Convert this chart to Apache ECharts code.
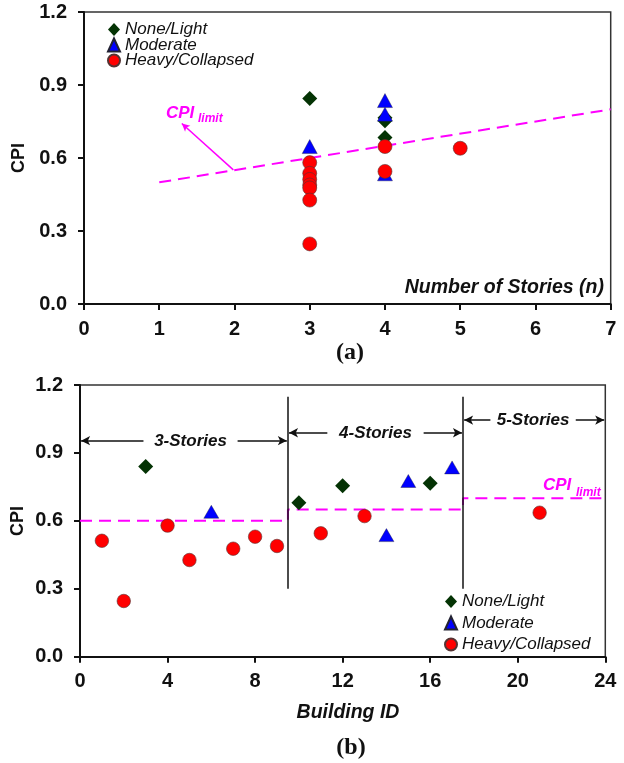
<!DOCTYPE html>
<html>
<head>
<meta charset="utf-8">
<script src="https://cdn.jsdelivr.net/npm/echarts@6/dist/echarts.min.js"></script>
<style>
  html, body { margin: 0; padding: 0; background: #fff; }
  #chart { width: 624px; height: 763px; }
</style>
</head>
<body>
<div id="chart"></div>
<script>
// ---- Panel (a): CPI versus number of stories ----
const storiesNone = [3, 4, 4, 4];
const cpiNoneA = [0.845, 0.765, 0.753, 0.684];
const storiesModerate = [3, 4, 4, 4];
const cpiModerateA = [0.647, 0.836, 0.780, 0.535];
const storiesHeavy = [3, 3, 3, 3, 3, 3, 3, 4, 4, 5];
const cpiHeavyA = [0.581, 0.537, 0.512, 0.489, 0.477, 0.427, 0.247, 0.647, 0.545, 0.640];
// CPI limit line: end points (stories, CPI)
const limitStoriesA = [1, 7];
const limitCpiA = [0.5, 0.8];

// ---- Panel (b): CPI per building ----
const idNone = [3, 10, 12, 16];
const cpiNoneB = [0.840, 0.680, 0.755, 0.766];
const idModerate = [6, 14, 15, 17];
const cpiModerateB = [0.640, 0.537, 0.776, 0.836];
const idHeavy = [1, 2, 4, 5, 7, 8, 9, 11, 13, 21];
const cpiHeavyB = [0.512, 0.246, 0.579, 0.427, 0.477, 0.530, 0.489, 0.545, 0.621, 0.636];
// Story groups: boundaries on the building axis and CPI limit of each group
const groupNames = ['3-Stories', '4-Stories', '5-Stories'];
const groupStart = [0, 9.5, 17.5];
const groupEnd = [9.5, 17.5, 24];
const groupLimit = [0.60, 0.65, 0.70];

const yTicks = [0, 0.3, 0.6, 0.9, 1.2];

const zip = (xs, ys) => xs.map((x, i) => [x, ys[i]]);

const FONT = '"Liberation Sans", Arial, sans-serif';
const GREEN = '#043304';
const BLUE = '#0000ff';
const RED = '#ff0000';
const MAGENTA = '#ff00ff';

function axisCommon() {
  return {
    type: 'value',
    splitLine: { show: false },
    axisLine: { show: true, onZero: false, lineStyle: { color: '#111', width: 2 } },
    axisTick: { show: true, inside: false, length: 6, lineStyle: { color: '#111', width: 2 } },
    axisLabel: { color: '#111', fontFamily: FONT, fontWeight: 'bold', fontSize: 20 }
  };
}

function xAxis(gridIndex, max, interval) {
  const a = axisCommon();
  a.gridIndex = gridIndex; a.min = 0; a.max = max; a.interval = interval;
  a.axisLabel.margin = 15;
  return a;
}
function yAxis(gridIndex) {
  const a = axisCommon();
  a.gridIndex = gridIndex; a.min = yTicks[0]; a.max = yTicks[yTicks.length - 1];
  a.interval = yTicks[1] - yTicks[0];
  a.axisLabel.margin = 17;
  a.axisLabel.formatter = v => v.toFixed(1);
  return a;
}

const markerNone = { symbol: 'diamond', symbolSize: [15, 15], itemStyle: { color: GREEN, opacity: 1 } };
const markerMod = { symbol: 'triangle', symbolSize: [15, 14], itemStyle: { color: BLUE, opacity: 1, borderColor: '#223', borderWidth: 0.4 } };
const markerHeavy = { symbol: 'circle', symbolSize: 14, itemStyle: { color: RED, opacity: 1, borderColor: '#553333', borderWidth: 0.6 } };

function scatter(name, marker, grid, data, size) {
  return Object.assign({
    type: 'scatter', name: name, xAxisIndex: grid, yAxisIndex: grid,
    data: data, z: 3, silent: true
  }, marker, size ? { symbolSize: size } : {});
}

// Dividers between story groups and the double-headed span arrows
const spanArrowY = [0.954, 0.989, 1.045];
const textHalfGap = [2.15, 2.2, 1.95];
const groupMid = groupNames.map((g, i) =>
  (groupStart[i] + groupEnd[i]) / 2 + (i === 0 ? 0.3 : 0) + (i === 2 ? -0.05 : 0));
const bMarkLines = [];
for (let i = 1; i < groupStart.length; i++) {
  bMarkLines.push([
    { coord: [groupStart[i], 0.30], symbol: 'none' },
    { coord: [groupStart[i], 1.148], symbol: 'none' }
  ]);
}
groupNames.forEach((g, i) => {
  const mid = groupMid[i];
  bMarkLines.push([
    { coord: [mid - textHalfGap[i], spanArrowY[i]], symbol: 'none' },
    { coord: [groupStart[i] + 0.05, spanArrowY[i]], symbol: 'arrow' }
  ]);
  bMarkLines.push([
    { coord: [mid + textHalfGap[i], spanArrowY[i]], symbol: 'none' },
    { coord: [groupEnd[i] - 0.05, spanArrowY[i]], symbol: 'arrow' }
  ]);
});

// Stepped CPI limit for panel (b)
const limitStepB = [];
groupNames.forEach((g, i) => {
  limitStepB.push([groupStart[i], groupLimit[i]]);
  limitStepB.push([groupEnd[i], groupLimit[i]]);
});

const legendData = [
  { name: 'None/Light', icon: 'diamond' },
  { name: 'Moderate', icon: 'triangle' },
  { name: 'Heavy/Collapsed', icon: 'circle' }
];
const legendText = { fontFamily: FONT, fontStyle: 'italic', fontSize: 17, color: '#111' };

const chart = echarts.init(document.getElementById('chart'), null, { renderer: 'canvas' });

chart.setOption({
  animation: false,
  backgroundColor: '#fff',
  grid: [
    { left: 84, top: 12, width: 526.7, height: 292, show: true, borderColor: '#333', borderWidth: 1.5, backgroundColor: 'transparent' },
    { left: 80, top: 385, width: 525.3, height: 271.7, show: true, borderColor: '#333', borderWidth: 1.5, backgroundColor: 'transparent' }
  ],
  xAxis: [xAxis(0, 7, 1), xAxis(1, 24, 4)],
  yAxis: [yAxis(0), yAxis(1)],
  legend: [
    {
      orient: 'vertical', left: 107, top: 21, padding: 0, itemWidth: 12, itemHeight: 13, itemGap: -1.5,
      selectedMode: false, data: legendData,
      textStyle: legendText
    },
    {
      orient: 'vertical', left: 444, top: 593, padding: 0, itemWidth: 12, itemHeight: 13, itemGap: 4.5,
      selectedMode: false, data: legendData,
      textStyle: legendText
    }
  ],
  series: [
    {
      type: 'line', xAxisIndex: 0, yAxisIndex: 0, data: zip(limitStoriesA, limitCpiA),
      symbol: 'none', silent: true, z: 2,
      lineStyle: { color: MAGENTA, width: 2, type: [12, 7] },
      markLine: {
        silent: true, animation: false, symbol: ['none', 'arrow'], symbolSize: [6, 8],
        label: { show: false },
        lineStyle: { color: MAGENTA, width: 1.5, type: 'solid' },
        data: [[{ coord: [1.985, 0.551] }, { coord: [1.30, 0.742] }]]
      }
    },
    scatter('None/Light', markerNone, 0, zip(storiesNone, cpiNoneA)),
    scatter('Moderate', markerMod, 0, zip(storiesModerate, cpiModerateA)),
    scatter('Heavy/Collapsed', markerHeavy, 0, zip(storiesHeavy, cpiHeavyA)),
    {
      type: 'line', xAxisIndex: 1, yAxisIndex: 1, data: limitStepB,
      symbol: 'none', silent: true, z: 2,
      lineStyle: { color: MAGENTA, width: 2, type: [12, 7] },
      markLine: {
        silent: true, animation: false, symbolSize: [7, 9],
        label: { show: false },
        lineStyle: { color: '#111', width: 1.5, type: 'solid' },
        data: bMarkLines
      }
    },
    scatter('None/Light', markerNone, 1, zip(idNone, cpiNoneB)),
    scatter('Moderate', markerMod, 1, zip(idModerate, cpiModerateB), [15, 13]),
    scatter('Heavy/Collapsed', markerHeavy, 1, zip(idHeavy, cpiHeavyB), 13.5)
  ]
});

// Text annotations
function txt(x, y, text, font, color, align, vAlign, rotation) {
  return {
    type: 'text', x: x, y: y, rotation: rotation || 0, z: 10, silent: true,
    style: {
      text: text, font: font, fill: color || '#111',
      align: align || 'center', textAlign: align || 'center',
      verticalAlign: vAlign || 'middle', textVerticalAlign: vAlign || 'middle'
    }
  };
}
const boldItalic = s => 'italic bold ' + s + 'px ' + FONT;
const graphics = [];

// y axis titles
graphics.push(txt(19, 158, 'CPI', 'bold 18px ' + FONT, '#111', 'center', 'middle', Math.PI / 2));
graphics.push(txt(18, 521, 'CPI', 'bold 18px ' + FONT, '#111', 'center', 'middle', Math.PI / 2));
// x axis titles
graphics.push(txt(604, 288, 'Number of Stories (n)', boldItalic(19.5), '#111', 'right', 'middle'));
graphics.push(txt(348, 713, 'Building ID', boldItalic(19.5), '#111', 'center', 'middle'));
// panel captions
graphics.push(txt(350, 353, '(a)', 'bold 24px "Liberation Serif", "Times New Roman", serif', '#111', 'center', 'middle'));
graphics.push(txt(351, 748, '(b)', 'bold 24px "Liberation Serif", "Times New Roman", serif', '#111', 'center', 'middle'));

// CPI limit labels
graphics.push(txt(166, 113, 'CPI', boldItalic(17), MAGENTA, 'left', 'middle'));
graphics.push(txt(198, 119, 'limit', boldItalic(12), MAGENTA, 'left', 'middle'));
graphics.push(txt(543, 485.5, 'CPI', boldItalic(17), MAGENTA, 'left', 'middle'));
graphics.push(txt(576, 492.5, 'limit', boldItalic(12), MAGENTA, 'left', 'middle'));

// Story group labels, centred between their arrows
groupNames.forEach((g, i) => {
  const p = chart.convertToPixel({ gridIndex: 1 }, [groupMid[i], spanArrowY[i]]);
  graphics.push(txt(p[0], p[1] + 0.5, g, boldItalic(17), '#111', 'center', 'middle'));
});

chart.setOption({ graphic: graphics });
</script>
</body>
</html>
